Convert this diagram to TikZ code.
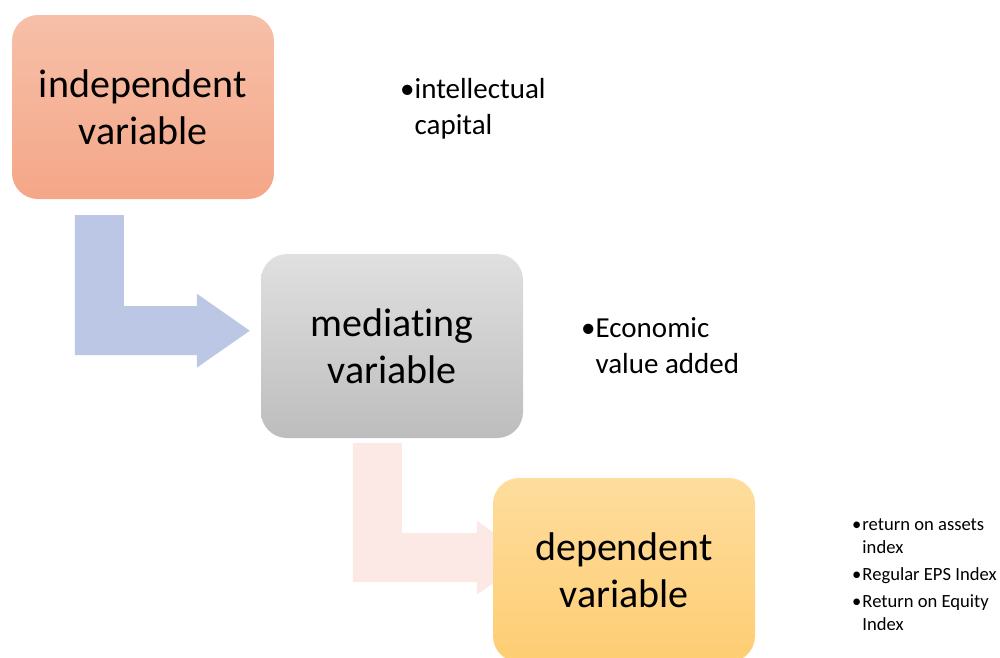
\documentclass[tikz,border=0pt]{standalone}
\usepackage{fontspec}
\setmainfont[Ligatures=NoCommon]{Carlito}
\usepackage{xcolor}
\usetikzlibrary{positioning, calc}

\definecolor{indtop}{RGB}{246,192,168}
\definecolor{indbot}{RGB}{245,166,136}
\definecolor{medtop}{RGB}{224,224,224}
\definecolor{medbot}{RGB}{189,189,189}
\definecolor{deptop}{RGB}{254,221,157}
\definecolor{depbot}{RGB}{254,205,115}
\definecolor{elbowblue}{RGB}{188,199,229}
\definecolor{elbowpink}{RGB}{252,233,229}

\begin{document}
\begin{tikzpicture}[
  x=1pt,
  y=1pt,
  varbox/.style={rectangle, rounded corners=26pt, minimum width=262pt, minimum height=184pt, align=center, inner sep=0pt, font=\fontsize{40}{47}\selectfont},
  note/.style={anchor=north west, inner sep=0pt},
  bignote/.style={note, font=\fontsize{29}{36}\selectfont},
  smallnote/.style={note, font=\fontsize{18.6}{23}\selectfont}
]
\useasboundingbox (0,0) rectangle (1000,-657);

% Variable boxes
\node[varbox, top color=indtop, bottom color=indbot] (indep) at (143,-107) {independent\\variable};
\node[varbox, top color=medtop, bottom color=medbot] (med) at (392,-346) {mediating\\variable};

% Elbow arrows
\coordinate (elbowA) at ($(indep.south west)+(63,-16)$);
\fill[elbowblue] (elbowA) -- ++(49,0) -- ++(0,-91) -- ++(73,0) -- ++(0,12.5) -- ++(53,-37) -- ++(-53,-37) -- ++(0,12.5) -- ++(-122,0) -- cycle;
\coordinate (elbowB) at ($(med.south west)+(92,-5)$);
\fill[elbowpink] (elbowB) -- ++(49,0) -- ++(0,-90) -- ++(75,0) -- ++(0,12.5) -- ++(53,-37) -- ++(-53,-37) -- ++(0,12.5) -- ++(-124,0) -- cycle;

\node[varbox, top color=deptop, bottom color=depbot] (dep) at (624,-570) {dependent\\variable};

% Notes
\node[bignote] (ic) at (400,-73) {\begin{tabular}{@{}l@{\hspace{0pt}}l@{}}\textbullet & intellectual\\ & capital\end{tabular}};
\node[bignote] (eva) at (581,-312) {\begin{tabular}{@{}l@{\hspace{0pt}}l@{}}\textbullet & Economic\\ & value added\end{tabular}};
\node[smallnote] (perf) at (852,-514) {\begin{tabular}{@{}l@{\hspace{1pt}}l@{}}\textbullet & return on assets\\ & index\\[4pt]
\textbullet & Regular EPS Index\\[4pt]
\textbullet & Return on Equity\\ & Index\end{tabular}};

\end{tikzpicture}
\end{document}
